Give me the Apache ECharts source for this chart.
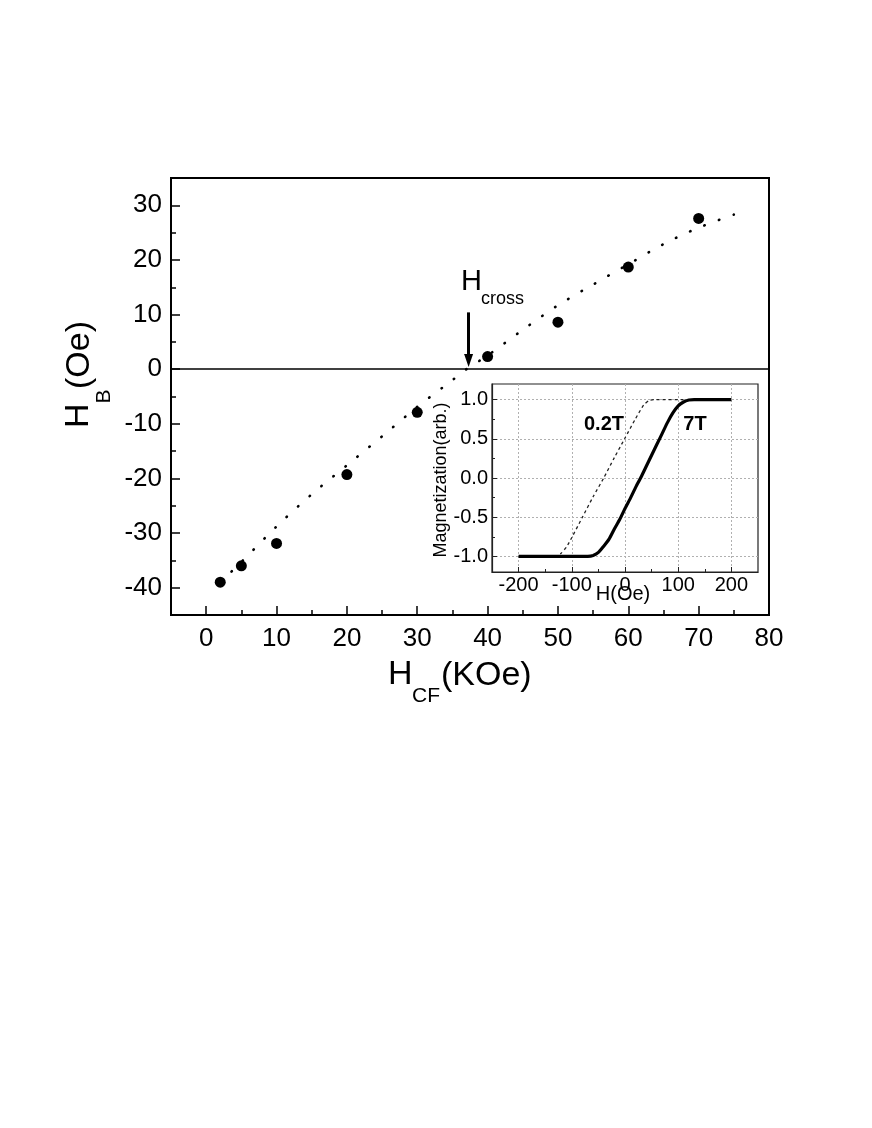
<!DOCTYPE html>
<html>
<head>
<meta charset="utf-8">
<script src="https://cdn.jsdelivr.net/npm/echarts@6/dist/echarts.min.js"></script>
<style>
html,body{margin:0;padding:0;background:#fff;}
#chart{width:872px;height:1128px;}
</style>
</head>
<body>
<div id="chart"></div>
<script>
// ---- main data ----
const hCF = [2, 5, 10, 20, 30, 40, 50, 60, 70];
const hB = [-39, -36, -31.9, -19.3, -7.9, 2.3, 8.6, 18.7, 27.6];
const fitX = [2, 5, 10, 15, 20, 25, 30, 35, 37, 40, 45, 50, 55, 60, 65, 70, 75];
const fitY = [-39, -35.3, -28.8, -22.9, -17.6, -12.3, -6.9, -2.0, 0, 2.5, 7.2, 11.7, 15.5, 19.2, 22.9, 25.9, 28.3];
const xMajor = [0, 10, 20, 30, 40, 50, 60, 70, 80];
const xMinor = [5, 15, 25, 35, 45, 55, 65, 75];
const yMajor = [-40, -30, -20, -10, 0, 10, 20, 30];
const yMinor = [-35, -25, -15, -5, 5, 15, 25];
const hCross = [37.3, 10.4, 1.6]; // arrow x, from y, to y

// ---- inset data ----
const h7T = [-200, -100, -70, -60, -50, -40, -30, -20, -10, 0, 10, 20, 30, 40, 50, 60, 70, 80, 90, 100, 110, 120, 130, 200];
const m7T = [-1, -1, -1, -0.99, -0.95, -0.87, -0.78, -0.65, -0.53, -0.39, -0.26, -0.12, 0.01, 0.15, 0.29, 0.43, 0.57, 0.71, 0.83, 0.92, 0.97, 0.995, 1, 1];
const h02T = [-200, -130, -120, -110, -100, -80, -60, -40, -20, 0, 20, 35, 45, 55, 110];
const m02T = [-1, -1, -0.96, -0.88, -0.76, -0.5, -0.24, 0.0, 0.26, 0.51, 0.76, 0.93, 0.99, 1, 1];
const ixMajor = [-200, -100, 0, 100, 200];
const ixMinor = [-150, -50, 50, 150];
const iyMajor = [-1, -0.5, 0, 0.5, 1];
const iyMinor = [-0.75, -0.25, 0.25, 0.75];

const FF = "'Liberation Sans', Arial, Helvetica, sans-serif";
const zip = (a, b) => a.map((v, i) => [v, b[i]]);

const chart = echarts.init(document.getElementById('chart'), null, {renderer: 'canvas'});

function txt(x, y, text, size, opts) {
  opts = opts || {};
  return {
    type: 'text', x: x, y: y, silent: true, z: 100,
    style: {
      text: text, fill: '#000',
      fontSize: size, fontFamily: FF, fontWeight: opts.weight || 'normal',
      align: opts.align || 'left', verticalAlign: opts.valign || 'middle',
      textAlign: opts.align || 'left', textVerticalAlign: opts.valign || 'middle'
    }
  };
}

const option = {
  backgroundColor: '#fff',
  animation: false,
  grid: [
    {left: 171, top: 178, width: 598, height: 437, show: true, borderColor: '#000', borderWidth: 2, backgroundColor: 'transparent'},
    {left: 492, top: 384, width: 266, height: 188, show: true, borderColor: '#222', borderWidth: 1.2, backgroundColor: '#fff', z: 3}
  ],
  xAxis: [
    {gridIndex: 0, type: 'value', min: -5, max: 80, interval: 5, position: 'bottom',
     axisLine: {show: true, onZero: false, lineStyle: {color: '#000', width: 2}},
     axisTick: {show: true, inside: true, length: 9, customValues: xMajor, lineStyle: {color: '#000', width: 1.5}},
     axisLabel: {customValues: xMajor, margin: 11, fontSize: 26, fontFamily: FF, color: '#000'},
     splitLine: {show: false}},
    {gridIndex: 0, type: 'value', min: -5, max: 80, interval: 5, position: 'bottom',
     axisLine: {show: false, onZero: false},
     axisTick: {show: true, inside: true, length: 5, customValues: xMinor, lineStyle: {color: '#000', width: 1.5}},
     axisLabel: {show: false}, splitLine: {show: false}},
    {gridIndex: 1, type: 'value', min: -250, max: 250, interval: 50, position: 'bottom', z: 4,
     axisLine: {show: true, onZero: false, lineStyle: {color: '#222', width: 1.2}},
     axisTick: {show: true, inside: true, length: 5, customValues: ixMajor, lineStyle: {color: '#222', width: 1}},
     axisLabel: {customValues: ixMajor, margin: 3, fontSize: 20, fontFamily: FF, color: '#000'},
     splitLine: {show: true, lineStyle: {color: '#b0b0b0', width: 1, type: [2, 2]}}},
    {gridIndex: 1, type: 'value', min: -250, max: 250, interval: 50, position: 'bottom', z: 4,
     axisLine: {show: false, onZero: false},
     axisTick: {show: true, inside: true, length: 3, customValues: ixMinor, lineStyle: {color: '#222', width: 1}},
     axisLabel: {show: false}, splitLine: {show: false}}
  ],
  yAxis: [
    {gridIndex: 0, type: 'value', min: -45, max: 35, interval: 5, position: 'left',
     axisLine: {show: true, onZero: false, lineStyle: {color: '#000', width: 2}},
     axisTick: {show: true, inside: true, length: 9, customValues: yMajor, lineStyle: {color: '#000', width: 1.5}},
     axisLabel: {customValues: yMajor, margin: 9, fontSize: 26, fontFamily: FF, color: '#000'},
     splitLine: {show: false}},
    {gridIndex: 0, type: 'value', min: -45, max: 35, interval: 5, position: 'left',
     axisLine: {show: false, onZero: false},
     axisTick: {show: true, inside: true, length: 5, customValues: yMinor, lineStyle: {color: '#000', width: 1.5}},
     axisLabel: {show: false}, splitLine: {show: false}},
    {gridIndex: 1, type: 'value', min: -1.2, max: 1.2, interval: 0.1, position: 'left', z: 4,
     axisLine: {show: true, onZero: false, lineStyle: {color: '#222', width: 1.2}},
     axisTick: {show: true, inside: true, length: 5, customValues: iyMajor, lineStyle: {color: '#222', width: 1}},
     axisLabel: {customValues: iyMajor, margin: 4, fontSize: 20, fontFamily: FF, color: '#000',
                 formatter: v => Number(v).toFixed(1)},
     splitLine: {show: true, lineStyle: {color: '#b0b0b0', width: 1, type: [2, 2]}}},
    {gridIndex: 1, type: 'value', min: -1.2, max: 1.2, interval: 0.1, position: 'left', z: 4,
     axisLine: {show: false, onZero: false},
     axisTick: {show: true, inside: true, length: 3, customValues: iyMinor, lineStyle: {color: '#222', width: 1}},
     axisLabel: {show: false}, splitLine: {show: false}}
  ],
  series: [
    {
      name: 'fit', type: 'line', xAxisIndex: 0, yAxisIndex: 0,
      data: zip(fitX, fitY), smooth: 0.3, showSymbol: false, symbol: 'none', silent: true,
      lineStyle: {color: '#000', width: 2.6, type: [0.5, 15], cap: 'round'},
      markLine: {
        silent: true, symbol: ['none', 'none'], label: {show: false},
        lineStyle: {color: '#000', width: 1.6, type: 'solid'},
        data: [{yAxis: 0}]
      },
      z: 2
    },
    {
      name: 'HB', type: 'scatter', xAxisIndex: 0, yAxisIndex: 0,
      data: zip(hCF, hB), symbol: 'circle', symbolSize: 11,
      itemStyle: {color: '#000', opacity: 1}, silent: true,
      markLine: {
        silent: true, label: {show: false},
        lineStyle: {color: '#000', width: 3, type: 'solid'},
        data: [[
          {coord: [hCross[0], hCross[1]], symbol: 'none'},
          {coord: [hCross[0], hCross[2]], symbol: 'triangle', symbolSize: [9, 13], symbolRotate: 180}
        ]]
      },
      z: 3
    },
    {
      name: '0.2T', type: 'line', xAxisIndex: 2, yAxisIndex: 2,
      data: zip(h02T, m02T), smooth: 0.2, showSymbol: false, symbol: 'none', silent: true,
      lineStyle: {color: '#222', width: 1.3, type: [3, 3]}, z: 6
    },
    {
      name: '7T', type: 'line', xAxisIndex: 2, yAxisIndex: 2,
      data: zip(h7T, m7T), smooth: 0.2, showSymbol: false, symbol: 'none', silent: true,
      lineStyle: {color: '#000', width: 3.2}, z: 7
    }
  ],
  graphic: {
    elements: [
      // x axis name H_CF(KOe)
      txt(388, 675, 'H', 34),
      txt(412, 696, 'CF', 21),
      txt(441, 676, '(KOe)', 34),
      // y axis name H_B(Oe), rotated
      {
        type: 'group', x: 78.5, y: 428, rotation: Math.PI / 2, silent: true, z: 100,
        children: [
          txt(0, 0, 'H', 34),
          txt(24.5, 25.5, 'B', 21),
          txt(39, 1, '(Oe)', 34)
        ]
      },
      // H_cross annotation
      txt(461, 282, 'H', 29),
      txt(481, 299, 'cross', 18),
      // inset labels
      txt(604, 424, '0.2T', 20, {align: 'center', weight: 'bold'}),
      txt(695, 424, '7T', 20, {align: 'center', weight: 'bold'}),
      txt(623, 594, 'H(Oe)', 20, {align: 'center'}),
      {
        type: 'text', x: 441, y: 480, rotation: Math.PI / 2, silent: true, z: 100,
        style: {text: 'Magnetization(arb.)', fill: '#000', fontSize: 18, fontFamily: FF,
                align: 'center', verticalAlign: 'middle', textAlign: 'center', textVerticalAlign: 'middle'}
      }
    ]
  }
};
chart.setOption(option);
</script>
</body>
</html>
